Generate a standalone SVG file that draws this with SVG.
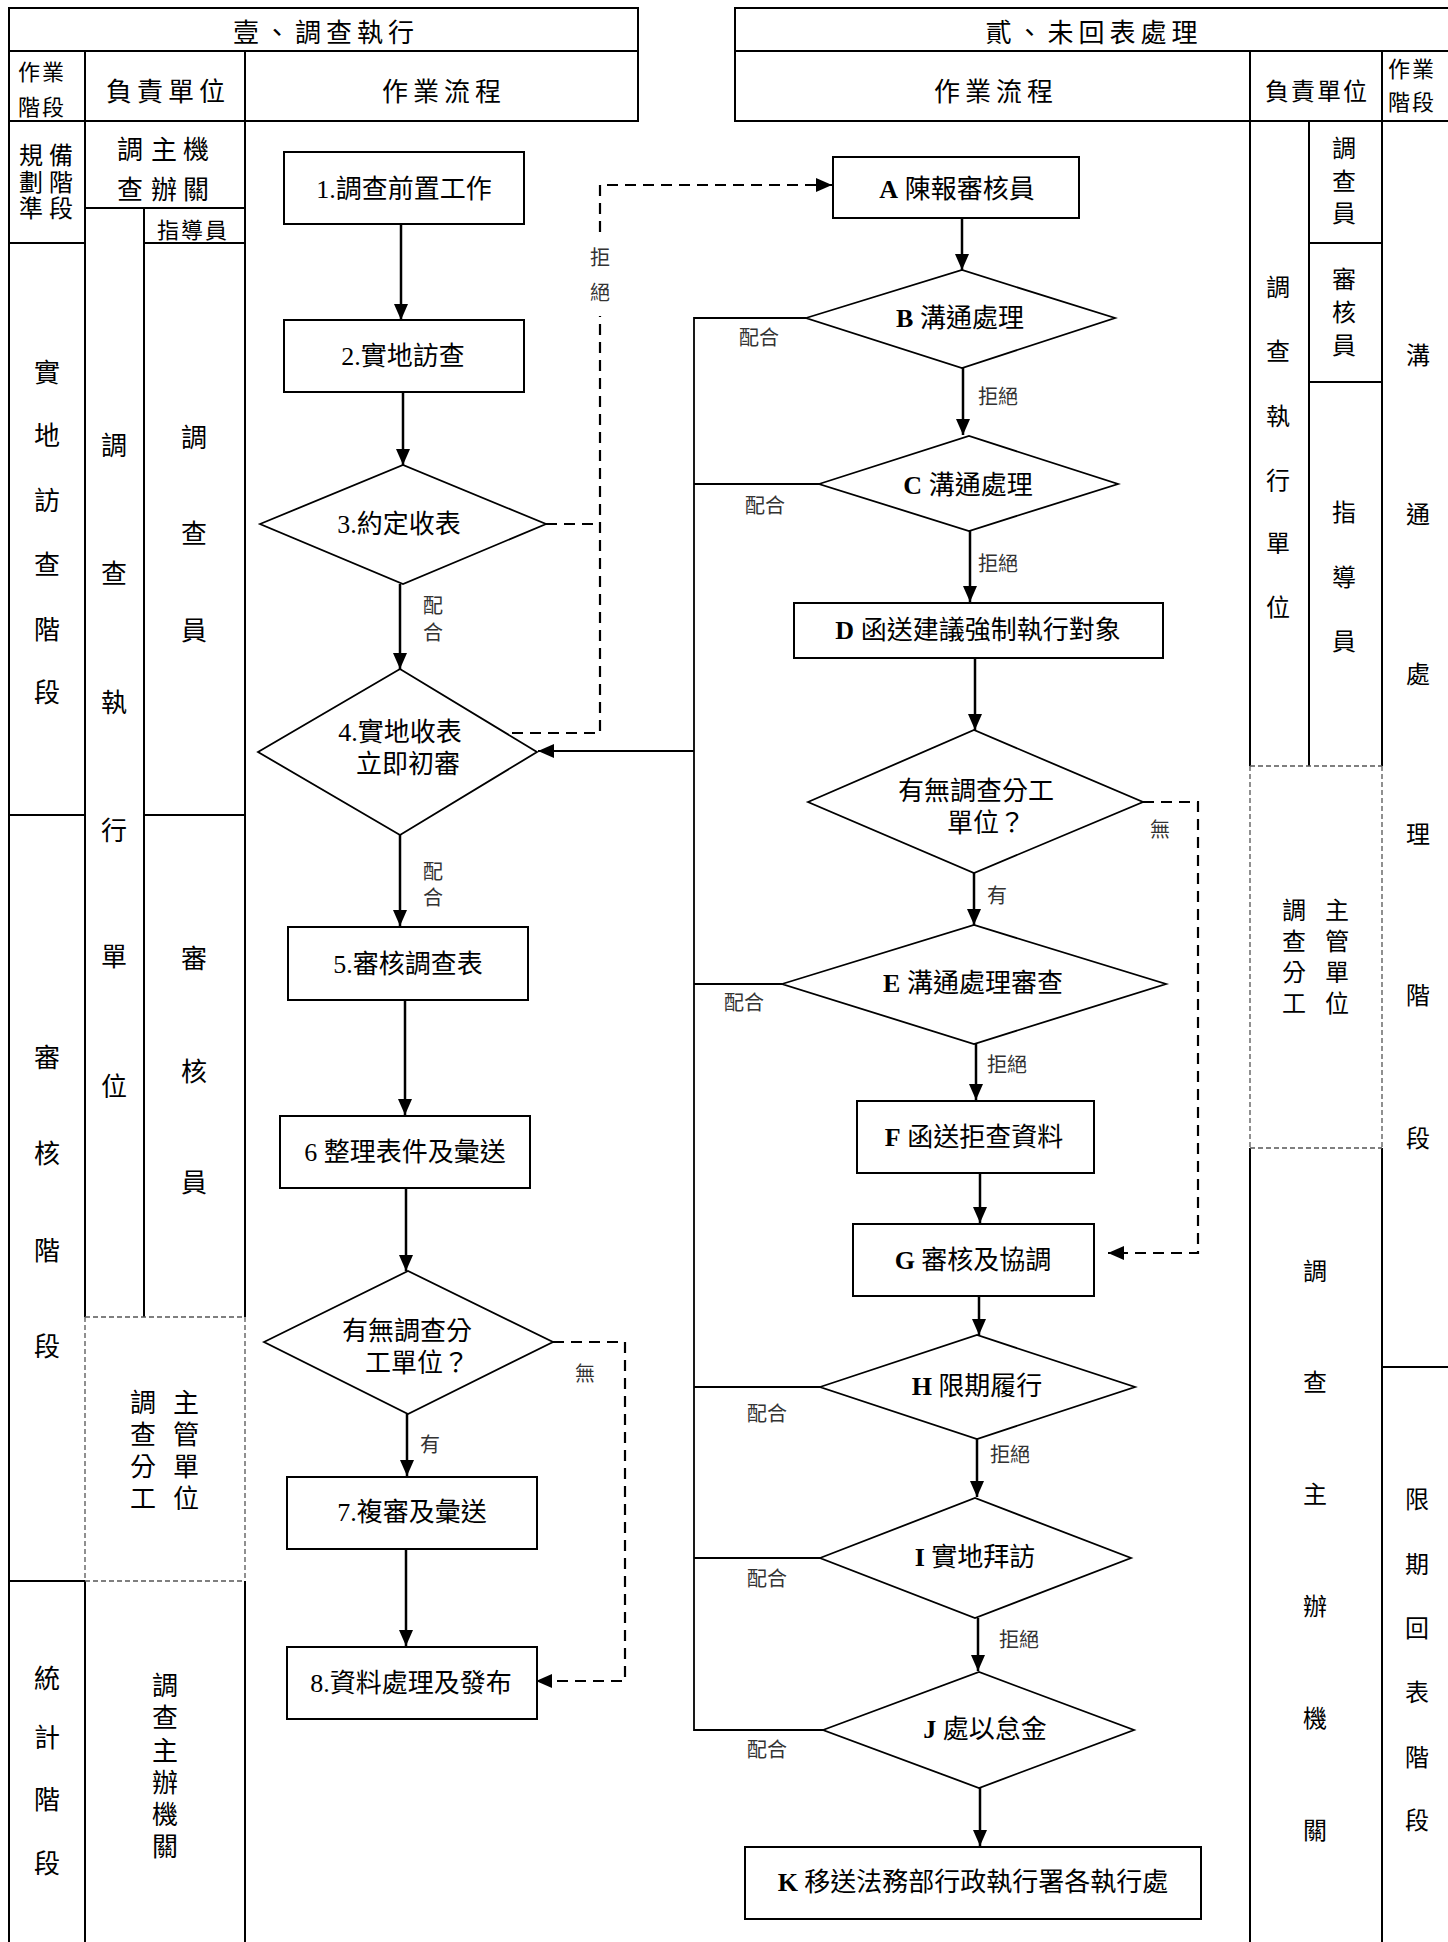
<svg xmlns="http://www.w3.org/2000/svg" width="1448" height="1942" viewBox="0 0 1448 1942">
<style>
.fr{stroke:#000;stroke-width:2;fill:none}
.df{stroke:#555;stroke-width:1.3;stroke-dasharray:5 3;fill:none}
.box{fill:#fff;stroke:#000;stroke-width:2}
.dia{fill:#fff;stroke:#000;stroke-width:1.8}
.fl{stroke:#000;stroke-width:2.5;fill:none;marker-end:url(#ah)}
.ln{stroke:#000;stroke-width:1.8;fill:none}
.dl{stroke:#000;stroke-width:2.2;stroke-dasharray:11 7;fill:none}
.dla{stroke:#000;stroke-width:2.2;stroke-dasharray:11 7;fill:none;marker-end:url(#ah)}
text{font-family:"Noto Sans CJK TC",sans-serif;text-anchor:middle;dominant-baseline:central;fill:#000}
.v{writing-mode:vertical-rl}
.hd{font-size:26px;letter-spacing:5px}
.hs{font-size:22px;letter-spacing:2px}
.lb{font-size:26px}
.ls{font-size:24px}
.nt{font-family:"Liberation Serif","Noto Sans CJK TC",serif;font-size:26px}
.ct{font-size:20px;fill:#333}
.b{font-family:"Liberation Serif",serif;font-weight:bold}
</style>
<defs>
<marker id="ah" markerUnits="userSpaceOnUse" markerWidth="16" markerHeight="14" viewBox="0 0 16 14" refX="16" refY="7" orient="auto"><path d="M0,0 L16,7 L0,14 z" fill="#000"/></marker>
</defs>
<rect width="1448" height="1942" fill="#fff"/>

<g id="table">
<rect class="fr" x="9" y="8" width="629" height="43"/>
<rect class="fr" x="9" y="51" width="629" height="70"/>
<path class="fr" d="M85,51 V121 M245,51 V121"/>
<path class="fr" d="M1450,8 H735 V121 H1450 M735,51 H1450 M1250,51 V121 M1382,51 V121"/>
<path class="fr" d="M9,121 V1942 M85,121 V1317 M85,1581 V1942 M245,121 V1317 M245,1581 V1942 M9,243 H85 M85,208 H245 M144,208 V1317 M144,243 H245 M9,815 H85 M144,815 H245 M9,1581 H85"/>
<path class="df" d="M85,1317 H245 M85,1581 H245 M85,1317 V1581 M245,1317 V1581"/>
<path class="fr" d="M1250,121 V766 M1250,1148 V1942 M1382,121 V766 M1382,1148 V1942 M1309,121 V766 M1309,243 H1382 M1309,382 H1382 M1382,1367 H1450"/>
<path class="df" d="M1250,766 H1382 M1250,1148 H1382 M1250,766 V1148 M1382,766 V1148"/>

<text class="hd" x="326" y="30">壹、調查執行</text>
<text class="hd" x="1094" y="30">貳、未回表處理</text>
<text class="hs" x="42" y="70">作業</text>
<text class="hs" x="42" y="105">階段</text>
<text class="hd" x="168" y="89">負責單位</text>
<text class="hd" x="444" y="89">作業流程</text>
<text class="hd" x="996" y="89">作業流程</text>
<text class="hs" x="1317" y="89" style="font-size:24px">負責單位</text>
<text class="hs" x="1412" y="67">作業</text>
<text class="hs" x="1412" y="100">階段</text>

<text class="ls v" x="31" y="183" letter-spacing="2.5">規劃準</text>
<text class="ls v" x="61" y="183" letter-spacing="2.5">備階段</text>
<text class="lb"><tspan x="130" y="147">調</tspan><tspan x="130" y="187">查</tspan><tspan x="164" y="147">主</tspan><tspan x="164" y="187">辦</tspan><tspan x="196" y="147">機</tspan><tspan x="196" y="187">關</tspan></text>
<text class="hs" x="193" y="228">指導員</text>
<text class="lb"><tspan x="47" y="370">實</tspan><tspan x="47" y="433">地</tspan><tspan x="47" y="498">訪</tspan><tspan x="47" y="562">查</tspan><tspan x="47" y="627">階</tspan><tspan x="47" y="690">段</tspan></text>
<text class="lb"><tspan x="114" y="443">調</tspan><tspan x="114" y="571">查</tspan><tspan x="114" y="700">執</tspan><tspan x="114" y="828">行</tspan><tspan x="114" y="954">單</tspan><tspan x="114" y="1084">位</tspan></text>
<text class="lb"><tspan x="194" y="435">調</tspan><tspan x="194" y="531">查</tspan><tspan x="194" y="628">員</tspan></text>
<text class="lb"><tspan x="194" y="956">審</tspan><tspan x="194" y="1069">核</tspan><tspan x="194" y="1180">員</tspan></text>
<text class="lb"><tspan x="47" y="1055">審</tspan><tspan x="47" y="1151">核</tspan><tspan x="47" y="1248">階</tspan><tspan x="47" y="1344">段</tspan></text>
<text class="lb v" x="143" y="1453" letter-spacing="6">調查分工</text>
<text class="lb v" x="186" y="1453" letter-spacing="6">主管單位</text>
<text class="lb"><tspan x="47" y="1676">統</tspan><tspan x="47" y="1735">計</tspan><tspan x="47" y="1797">階</tspan><tspan x="47" y="1861">段</tspan></text>
<text class="lb v" x="165" y="1769" letter-spacing="6.2">調查主辦機關</text>

<text class="ls v" x="1344" y="185" letter-spacing="8.5">調查員</text>
<text class="ls v" x="1344" y="316" letter-spacing="9">審核員</text>
<text class="ls"><tspan x="1344" y="510">指</tspan><tspan x="1344" y="575">導</tspan><tspan x="1344" y="639">員</tspan></text>
<text class="ls"><tspan x="1278" y="285">調</tspan><tspan x="1278" y="349">查</tspan><tspan x="1278" y="414">執</tspan><tspan x="1278" y="478">行</tspan><tspan x="1278" y="541">單</tspan><tspan x="1278" y="605">位</tspan></text>
<text class="ls v" x="1294" y="960" letter-spacing="7.3">調查分工</text>
<text class="ls v" x="1337" y="960" letter-spacing="7.3">主管單位</text>
<text class="ls"><tspan x="1315" y="1269">調</tspan><tspan x="1315" y="1380">查</tspan><tspan x="1315" y="1492">主</tspan><tspan x="1315" y="1604">辦</tspan><tspan x="1315" y="1716">機</tspan><tspan x="1315" y="1828">關</tspan></text>
<text class="ls"><tspan x="1418" y="353">溝</tspan><tspan x="1418" y="512">通</tspan><tspan x="1418" y="672">處</tspan><tspan x="1418" y="832">理</tspan><tspan x="1418" y="993">階</tspan><tspan x="1418" y="1136">段</tspan></text>
<text class="ls"><tspan x="1417" y="1497">限</tspan><tspan x="1417" y="1562">期</tspan><tspan x="1417" y="1626">回</tspan><tspan x="1417" y="1690">表</tspan><tspan x="1417" y="1755">階</tspan><tspan x="1417" y="1818">段</tspan></text>
</g>

<g id="connectors">
<path class="fl" d="M401,224 V320"/>
<path class="fl" d="M403,392 V465"/>
<path class="fl" d="M400,584 V669"/>
<path class="fl" d="M400,835 V926"/>
<path class="fl" d="M405,1000 V1115"/>
<path class="fl" d="M406,1188 V1271"/>
<path class="fl" d="M407,1414 V1476"/>
<path class="fl" d="M406,1549 V1646"/>
<path class="fl" d="M962,218 V270"/>
<path class="fl" d="M963,368 V435"/>
<path class="fl" d="M970,531 V602"/>
<path class="fl" d="M975,658 V730"/>
<path class="fl" d="M974,873 V925"/>
<path class="fl" d="M976,1044 V1100"/>
<path class="fl" d="M980,1173 V1223"/>
<path class="fl" d="M979,1296 V1335"/>
<path class="fl" d="M977,1439 V1497"/>
<path class="fl" d="M978,1618 V1671"/>
<path class="fl" d="M980,1788 V1846"/>
<path class="ln" d="M806,318 H694 V1730 H823 M694,484 H819 M694,984 H782 M694,1387 H820 M694,1558 H820"/>
<path class="fl" style="stroke-width:2" d="M694,751 H538"/>
<path class="dl" d="M512,733 H600 V316 M546,524 H600"/>
<path class="dla" d="M600,232 V185 H832"/>
<path class="dla" d="M1143,802 H1198 V1253 H1108"/>
<path class="dla" d="M553,1342 H625 V1681 H536"/>
<text class="ct v" x="600" y="282" letter-spacing="15">拒絕</text>
<text class="ct v" x="433" y="622" letter-spacing="7">配合</text>
<text class="ct v" x="433" y="887" letter-spacing="6">配合</text>
<text class="ct" x="430" y="1443">有</text>
<text class="ct" x="585" y="1372">無</text>
<text class="ct" x="759" y="336">配合</text>
<text class="ct" x="765" y="504">配合</text>
<text class="ct" x="744" y="1001">配合</text>
<text class="ct" x="767" y="1412">配合</text>
<text class="ct" x="767" y="1577">配合</text>
<text class="ct" x="767" y="1748">配合</text>
<text class="ct" x="998" y="395">拒絕</text>
<text class="ct" x="998" y="562">拒絕</text>
<text class="ct" x="1007" y="1063">拒絕</text>
<text class="ct" x="1010" y="1453">拒絕</text>
<text class="ct" x="1019" y="1638">拒絕</text>
<text class="ct" x="997" y="894">有</text>
<text class="ct" x="1160" y="828">無</text>
</g>

<g id="n1"><rect class="box" x="284" y="152" width="240" height="72"/><text class="nt" x="404" y="189">1.調查前置工作</text></g>
<g id="n2"><rect class="box" x="284" y="320" width="240" height="72"/><text class="nt" x="403" y="356">2.實地訪查</text></g>
<g id="n3"><polygon class="dia" points="260,524 403,465 546,524 403,584"/><text class="nt" x="399" y="524">3.約定收表</text></g>
<g id="n4"><polygon class="dia" points="258,752 400,669 537,752 400,835"/><text class="nt" x="400" y="732">4.實地收表</text><text class="nt" x="408" y="764">立即初審</text></g>
<g id="n5"><rect class="box" x="288" y="927" width="240" height="73"/><text class="nt" x="408" y="964">5.審核調查表</text></g>
<g id="n6"><rect class="box" x="280" y="1116" width="250" height="72"/><text class="nt" x="405" y="1152">6 整理表件及彙送</text></g>
<g id="n6q"><polygon class="dia" points="264,1342 408,1271 553,1342 408,1414"/><text class="nt" x="407" y="1331">有無調查分</text><text class="nt" x="417" y="1363">工單位？</text></g>
<g id="n7"><rect class="box" x="287" y="1477" width="250" height="72"/><text class="nt" x="412" y="1512">7.複審及彙送</text></g>
<g id="n8"><rect class="box" x="287" y="1647" width="250" height="72"/><text class="nt" x="411" y="1683">8.資料處理及發布</text></g>

<g id="nA"><rect class="box" x="833" y="157" width="246" height="61"/><text class="nt" x="957" y="189"><tspan class="b">A</tspan> 陳報審核員</text></g>
<g id="nB"><polygon class="dia" points="806,318 962,270 1115,318 962,368"/><text class="nt" x="960" y="318"><tspan class="b">B</tspan> 溝通處理</text></g>
<g id="nC"><polygon class="dia" points="819,484 969,436 1118,484 969,531"/><text class="nt" x="968" y="485"><tspan class="b">C</tspan> 溝通處理</text></g>
<g id="nD"><rect class="box" x="794" y="603" width="369" height="55"/><text class="nt" x="978" y="630"><tspan class="b">D</tspan> 函送建議強制執行對象</text></g>
<g id="nQ"><polygon class="dia" points="808,802 974,730 1143,802 974,873"/><text class="nt" x="976" y="791">有無調查分工</text><text class="nt" x="986" y="823">單位？</text></g>
<g id="nE"><polygon class="dia" points="782,984 974,925 1166,984 974,1044"/><text class="nt" x="973" y="983"><tspan class="b">E</tspan> 溝通處理審查</text></g>
<g id="nF"><rect class="box" x="857" y="1101" width="237" height="72"/><text class="nt" x="974" y="1137"><tspan class="b">F</tspan> 函送拒查資料</text></g>
<g id="nG"><rect class="box" x="853" y="1224" width="241" height="72"/><text class="nt" x="973" y="1260"><tspan class="b">G</tspan> 審核及協調</text></g>
<g id="nH"><polygon class="dia" points="820,1387 977,1335 1135,1387 977,1439"/><text class="nt" x="977" y="1386"><tspan class="b">H</tspan> 限期履行</text></g>
<g id="nI"><polygon class="dia" points="820,1558 975,1498 1131,1558 975,1618"/><text class="nt" x="975" y="1557"><tspan class="b">I</tspan> 實地拜訪</text></g>
<g id="nJ"><polygon class="dia" points="823,1730 979,1672 1134,1730 979,1788"/><text class="nt" x="985" y="1729"><tspan class="b">J</tspan> 處以怠金</text></g>
<g id="nK"><rect class="box" x="745" y="1847" width="456" height="72"/><text class="nt" x="973" y="1882"><tspan class="b">K</tspan> 移送法務部行政執行署各執行處</text></g>
</svg>
